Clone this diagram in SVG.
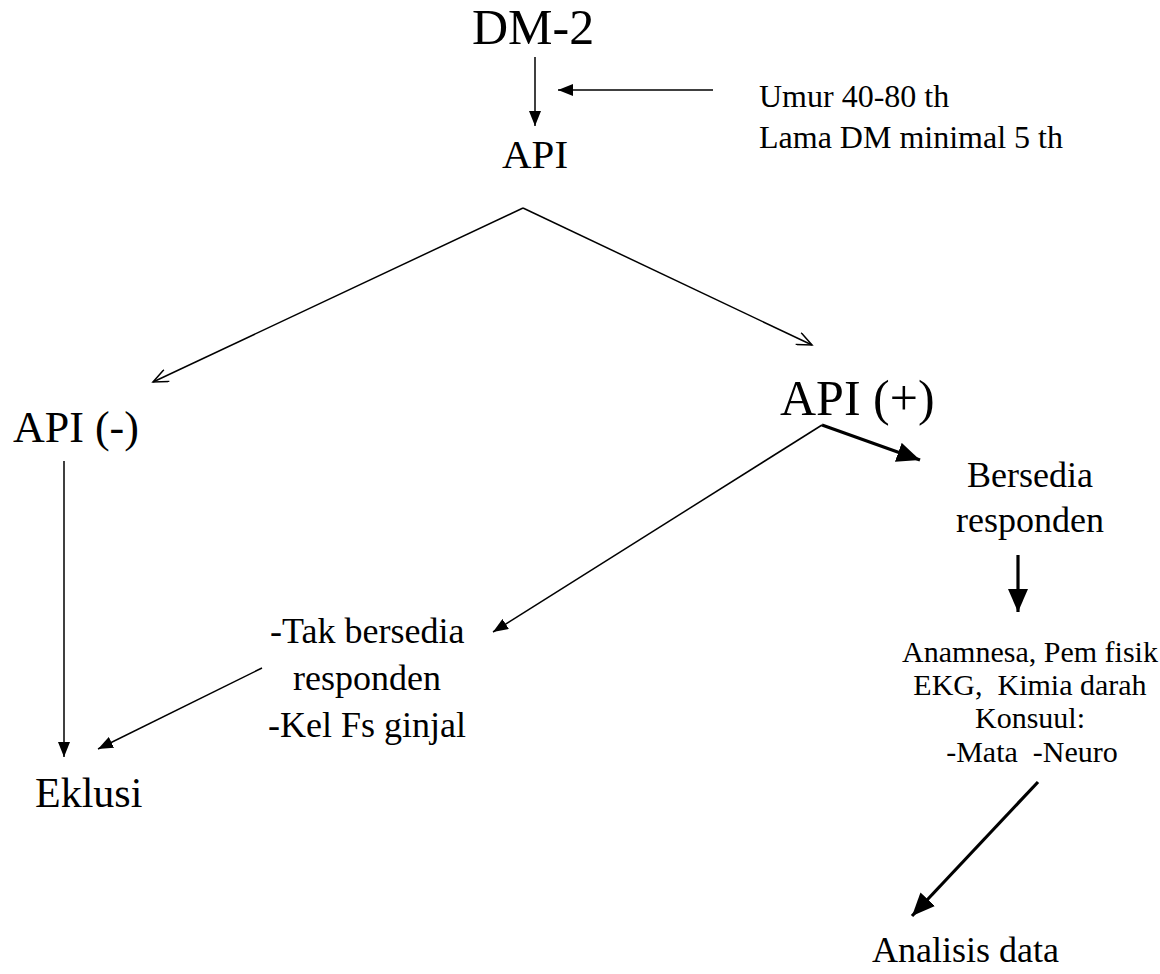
<svg xmlns="http://www.w3.org/2000/svg" width="1160" height="974" viewBox="0 0 1160 974">
<style>
text{font-family:"Liberation Serif","Times New Roman",serif;fill:#000}
.pre{white-space:pre}
.ln{stroke:#000;fill:none}
.thin{stroke-width:1.5}
.thick{stroke-width:3.2}
</style>
<defs>
<marker id="fs" markerUnits="userSpaceOnUse" markerWidth="16" markerHeight="12" refX="15" refY="6" orient="auto" viewBox="0 0 16 12">
<path d="M0,0 L15,6 L0,12 z" fill="#000"/>
</marker>
<marker id="op" markerUnits="userSpaceOnUse" markerWidth="18" markerHeight="14" refX="16" refY="7" orient="auto" viewBox="0 0 18 14">
<path d="M1,0.5 L16,7 L1,13.5" fill="none" stroke="#000" stroke-width="1.5"/>
</marker>
<marker id="fl" markerUnits="userSpaceOnUse" markerWidth="24" markerHeight="20" refX="23" refY="10" orient="auto" viewBox="0 0 24 20">
<path d="M0,0 L23,10 L0,20 z" fill="#000"/>
</marker>
</defs>
<rect width="1160" height="974" fill="#fff"/>
<g id="connectors">
<line class="ln thin" x1="535" y1="57" x2="535" y2="126" marker-end="url(#fs)"/>
<line class="ln thin" x1="713" y1="90" x2="558" y2="90" marker-end="url(#fs)"/>
<line class="ln thin" x1="523" y1="208" x2="153" y2="382" marker-end="url(#op)"/>
<line class="ln thin" x1="523" y1="208" x2="812" y2="345" marker-end="url(#op)"/>
<line class="ln thick" x1="822" y1="425" x2="920" y2="460" marker-end="url(#fl)"/>
<line class="ln thin" x1="822" y1="425" x2="493" y2="632" marker-end="url(#fs)"/>
<line class="ln thin" x1="262" y1="668" x2="98" y2="749" marker-end="url(#fs)"/>
<line class="ln thin" x1="64" y1="461" x2="64" y2="757" marker-end="url(#fs)"/>
<line class="ln thick" x1="1018" y1="555" x2="1018" y2="612" marker-end="url(#fl)"/>
<line class="ln thick" x1="1038" y1="782" x2="912" y2="916" marker-end="url(#fl)"/>
</g>
<g id="dm2"><text x="472" y="44" font-size="50">DM-2</text></g>
<g id="kriteria">
<text x="759" y="107" font-size="32">Umur 40-80 th</text>
<text x="759" y="148" font-size="32">Lama DM minimal 5 th</text>
</g>
<g id="api"><text x="502" y="168" font-size="41">API</text></g>
<g id="api-neg"><text x="13" y="442" font-size="44">API (-)</text></g>
<g id="api-pos"><text x="780" y="415" font-size="50">API (+)</text></g>
<g id="tak-bersedia">
<text x="270" y="643" font-size="36">-Tak bersedia</text>
<text x="293" y="690" font-size="36">responden</text>
<text x="268" y="737" font-size="36">-Kel Fs ginjal</text>
</g>
<g id="eklusi"><text x="35" y="807" font-size="42">Eklusi</text></g>
<g id="bersedia">
<text x="1030" y="487" font-size="36" text-anchor="middle">Bersedia</text>
<text x="1030" y="532" font-size="36" text-anchor="middle">responden</text>
</g>
<g id="pemeriksaan">
<text x="1030" y="662" font-size="30" text-anchor="middle">Anamnesa, Pem fisik</text>
<text class="pre" x="1030" y="695" font-size="30" text-anchor="middle">EKG,  Kimia darah</text>
<text x="1030" y="728" font-size="30" text-anchor="middle">Konsuul:</text>
<text class="pre" x="1032" y="762" font-size="30" text-anchor="middle">-Mata  -Neuro</text>
</g>
<g id="analisis"><text x="872" y="962" font-size="36">Analisis data</text></g>
</svg>
